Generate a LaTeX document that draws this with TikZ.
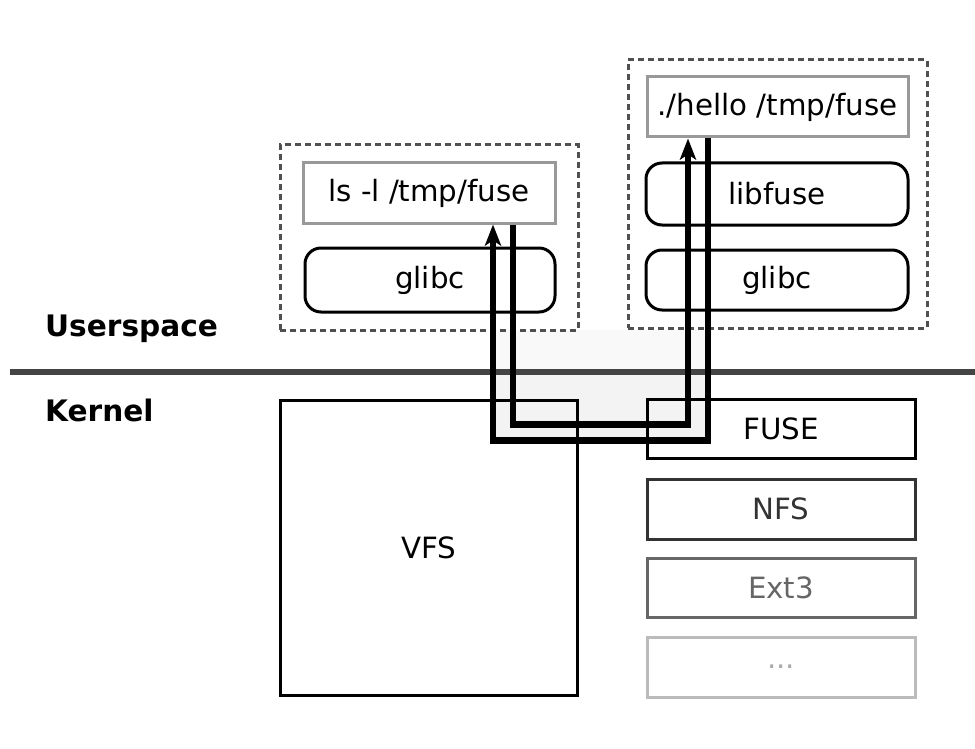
\documentclass[tikz,border=0pt]{standalone}
\usepackage{fontspec}
\setmainfont{DejaVu Sans}
\usetikzlibrary{arrows.meta}

\definecolor{sepgray}{HTML}{444444}
\definecolor{dashgray}{HTML}{505050}
\definecolor{cmdgray}{HTML}{999999}
\definecolor{nfsgray}{HTML}{333333}
\definecolor{extgray}{HTML}{666666}
\definecolor{dotgray}{HTML}{BBBBBB}
\definecolor{dottext}{HTML}{AAAAAA}
\definecolor{tunnel}{HTML}{F3F3F3}
\definecolor{tunnellight}{HTML}{F9F9F9}

\begin{document}
\begin{tikzpicture}[x=1pt,y=-1pt,
  every node/.style={font=\fontsize{29.3}{35}\selectfont, inner sep=0pt},
  process/.style={draw=dashgray, line width=3pt, dash pattern=on 6pt off 4pt},
  cmdbox/.style={draw=cmdgray, line width=3pt},
  libbox/.style={draw=black, line width=3pt, rounded corners=16pt},
  fsbox/.style={line width=3pt, minimum width=268pt},
  layerlabel/.style={font=\fontsize{29.6}{35}\selectfont\bfseries, anchor=base west},
  callpath/.style={line width=6.5pt, -{Stealth[length=21pt,width=16pt,inset=5pt]}}
]
\useasboundingbox (0,0) rectangle (975,749);

% shaded passage between user space and the kernel
\fill[tunnellight] (493,330) rectangle (708,372);
\fill[tunnel] (493,372) rectangle (708,439);

% user/kernel boundary
\draw[sepgray, line width=5.5pt] (10,372) -- (975,372);
\node[layerlabel] (user) at (45,336) {Userspace};
\node[layerlabel] (kern) at (45,421) {Kernel};

% process running ls
\node[process, minimum width=298pt, minimum height=185pt] (procA) at (429,237.5) {};
\node[cmdbox, minimum width=252pt, minimum height=60pt] (lsbox) at (429,193) {ls -l /tmp/fuse};
\node[libbox, minimum width=250pt, minimum height=64pt] (glibcA) at (430,280) {glibc};

% process running the FUSE file system
\node[process, minimum width=299pt, minimum height=268pt] (procB) at (777.5,194) {};
\node[cmdbox, minimum width=261pt, minimum height=60pt] (hellobox) at (777.5,107) {./hello /tmp/fuse};
\node[libbox, minimum width=262pt, minimum height=62pt] (libfuse) at (777,194) {libfuse};
\node[libbox, minimum width=262pt, minimum height=60pt] (glibcB) at (777,280) {glibc};

% kernel side
\node[draw=black, line width=3pt, minimum width=297pt, minimum height=295pt] (vfs) at (428.5,547.5) {VFS};
\node[fsbox, draw=black, minimum height=59pt] (fuse) at (781,428.5) {FUSE};
\node[fsbox, draw=nfsgray, text=nfsgray, minimum height=60pt] (nfs) at (781,509) {NFS};
\node[fsbox, draw=extgray, text=extgray, minimum height=59pt] (ext3) at (781,587.5) {Ext3};
\node[fsbox, draw=dotgray, text=dottext, minimum height=60pt] (more) at (781,667) {...};

% request path and its reply
\coordinate (lsout) at ([xshift=84pt]lsbox.south);
\coordinate (lsin) at ([xshift=64pt]lsbox.south);
\coordinate (helloin) at ([xshift=-89.5pt]hellobox.south);
\coordinate (helloout) at ([xshift=-69.5pt]hellobox.south);

\draw[callpath] (lsout) -- ++(0,200) -| (helloin);
\draw[callpath] (helloout) -- ++(0,302) -| (lsin);
\end{tikzpicture}
\end{document}
